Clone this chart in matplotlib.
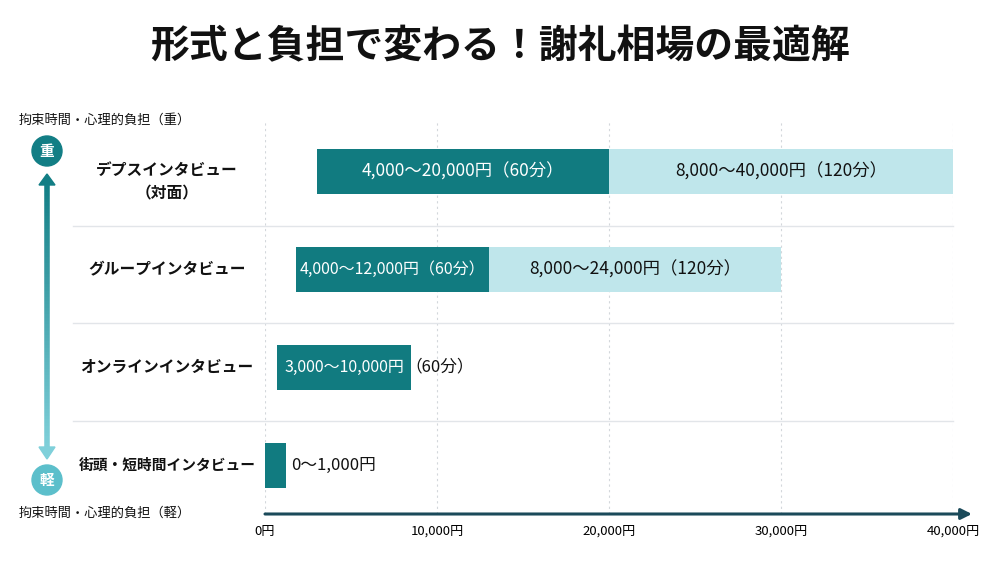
import numpy as np
import matplotlib
matplotlib.use('Agg')
import matplotlib.pyplot as plt
from matplotlib.collections import LineCollection
from matplotlib.patches import Circle, Polygon
from matplotlib.colors import to_rgb
from matplotlib.transforms import blended_transform_factory

plt.rcParams['font.family'] = ['Noto Sans CJK JP', 'DejaVu Sans']

# data
title = '形式と負担で変わる！謝礼相場の最適解'
categories = ['デプスインタビュー\n（対面）', 'グループインタビュー', 'オンラインインタビュー', '街頭・短時間インタビュー']
short_start = [3000, 1800, 700, 0]
short_end = [20000, 13000, 8500, 1200]
long_end = [40000, 30000, None, None]
short_labels = ['4,000～20,000円（60分）', '4,000～12,000円（60分）', '3,000～10,000円', '0～1,000円']
long_labels = ['8,000～40,000円（120分）', '8,000～24,000円（120分）', None, None]
extra_notes = [None, None, '（60分）', None]
x_ticks = [0, 10000, 20000, 30000, 40000]
x_tick_labels = ['0円', '10,000円', '20,000円', '30,000円', '40,000円']
heavy_text = '拘束時間・心理的負担（重）'
light_text = '拘束時間・心理的負担（軽）'

dark = '#117b80'
pale = '#bfe6eb'
navy = '#1b4a5a'

fig = plt.figure(figsize=(10, 5.63), dpi=100)
W, H = 1000, 563

ax = fig.add_axes([265 / W, 49 / H, 688 / W, 394 / H])
ax.set_xlim(0, 40000)
ax.set_ylim(3.5, -0.53)
for s in ax.spines.values():
    s.set_visible(False)
ax.set_yticks([])
ax.set_xticks(x_ticks)
ax.set_xticklabels(x_tick_labels, fontsize=9.5)
ax.tick_params(axis='x', length=0, pad=8)
ax.grid(axis='x', linestyle=(0, (2, 3)), color='#d3d7db', lw=0.8)
ax.set_axisbelow(True)

bar_h = 0.46
rows = np.arange(len(categories))
for i in rows:
    ax.barh(i, short_end[i] - short_start[i], left=short_start[i], height=bar_h, color=dark, zorder=3)
    if long_end[i] is not None:
        ax.barh(i, long_end[i] - short_end[i], left=short_end[i], height=bar_h, color=pale, zorder=3)
        ax.text((short_end[i] + long_end[i]) / 2, i, long_labels[i], ha='center', va='center',
                fontsize=12.5, color='#111111', zorder=4)
    width = short_end[i] - short_start[i]
    if width > 5000:
        fs = 12.5 if width > 12000 else 11.5
        ax.text((short_start[i] + short_end[i]) / 2, i, short_labels[i], ha='center', va='center',
                fontsize=fs, color='white', zorder=4)
    else:
        ax.text(short_end[i] + 300, i, short_labels[i], ha='left', va='center',
                fontsize=12, color='#111111', zorder=4)
    if extra_notes[i]:
        ax.text(short_end[i] - 350, i, extra_notes[i], ha='left', va='center',
                fontsize=12, color='#111111', zorder=4)

# row separators reaching under the labels
trans = blended_transform_factory(fig.transFigure, ax.transData)
for y in rows[:-1] + 0.55:
    ax.plot([73 / W, 953 / W], [y, y], transform=trans, color='#e2e5e9', lw=1, clip_on=False, zorder=1)

# row labels
for i, name in enumerate(categories):
    longest = max(len(part) for part in name.split('\n'))
    ax.text(167 / W, i + (0.1 if '\n' in name else 0), name, transform=trans, ha='center', va='center',
            multialignment='center', fontsize=11.3 if longest < 12 else 10.6,
            fontweight='bold', color='#111111', linespacing=1.6)

# x axis arrow
ax.annotate('', xy=(41100, 3.5), xytext=(0, 3.5), annotation_clip=False,
            arrowprops=dict(arrowstyle='-|>', color=navy, lw=2.2, mutation_scale=16, shrinkA=0, shrinkB=0))

fig.text(0.5, 1 - 47 / H, title, ha='center', va='center', fontsize=28, fontweight='bold', color='#111111')

# left burden scale in pixel coordinates
deco = fig.add_axes([0, 0, 1, 1])
deco.set_xlim(0, W)
deco.set_ylim(H, 0)
deco.axis('off')

top_c = np.array(to_rgb('#127e85'))
bot_c = np.array(to_rgb('#7fd0da'))
ys = np.linspace(182, 450, 80)
segs = [[(47, ys[k]), (47, ys[k + 1])] for k in range(len(ys) - 1)]
cols = [top_c + (bot_c - top_c) * k / (len(ys) - 2) for k in range(len(ys) - 1)]
deco.add_collection(LineCollection(segs, colors=cols, linewidths=4))
deco.add_patch(Polygon([(47, 174), (39, 185), (55, 185)], closed=True, color=top_c))
deco.add_patch(Polygon([(47, 459), (39, 447), (55, 447)], closed=True, color=bot_c))

deco.add_patch(Circle((47, 151), 15, color='#127e85'))
deco.text(47, 151, '重', ha='center', va='center', fontsize=10.5, fontweight='bold', color='white')
deco.add_patch(Circle((47, 480), 15, color='#5cbfcb'))
deco.text(47, 480, '軽', ha='center', va='center', fontsize=10.5, fontweight='bold', color='white')

deco.text(105, 120, heavy_text, ha='center', va='center', fontsize=9.5, color='#111111')
deco.text(105, 513, light_text, ha='center', va='center', fontsize=9.5, color='#111111')

fig.savefig('out.png', dpi=100, facecolor='white')
